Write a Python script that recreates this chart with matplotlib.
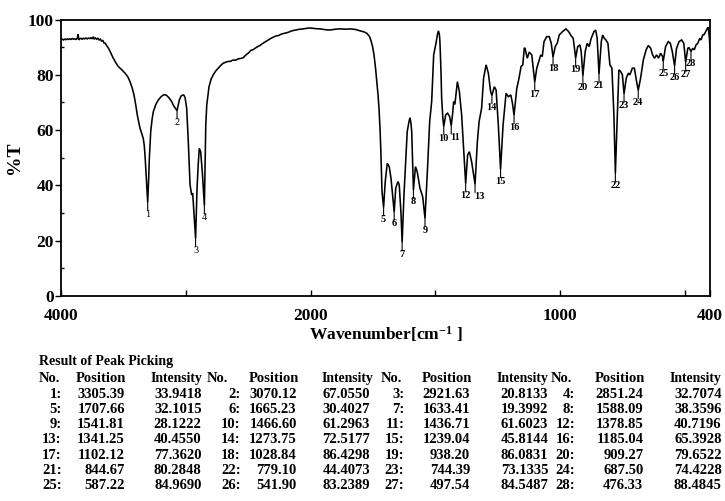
import numpy as np
import matplotlib
matplotlib.use("Agg")
import matplotlib.pyplot as plt
from matplotlib.ticker import FixedLocator, NullFormatter

plt.rcParams["font.family"] = ["Liberation Serif", "DejaVu Serif"]
plt.rcParams["font.weight"] = "bold"
plt.rcParams["mathtext.fontset"] = "custom"
plt.rcParams["mathtext.rm"] = "Liberation Serif:bold"
plt.rcParams["mathtext.bf"] = "Liberation Serif:bold"
plt.rcParams["mathtext.default"] = "rm"

# ---- picked peaks (No., position / cm-1, %T) ----
peak_no = list(range(1, 29))
peak_pos = [3305.39, 3070.12, 2921.63, 2851.24, 1707.66, 1665.23, 1633.41, 1588.09,
            1541.81, 1466.60, 1436.71, 1378.85, 1341.25, 1273.75, 1239.04, 1185.04,
            1102.12, 1028.84, 938.20, 909.27, 844.67, 779.10, 744.39, 687.50,
            587.22, 541.90, 497.54, 476.33]
peak_int = [33.9418, 67.0550, 20.8133, 32.7074, 32.1015, 30.4027, 19.3992, 38.3596,
            28.1222, 61.2963, 61.6023, 40.7196, 40.4550, 72.5177, 45.8144, 65.3928,
            77.3620, 86.4298, 86.0831, 79.6522, 80.2848, 44.4073, 73.1335, 74.4228,
            84.9690, 83.2389, 84.5487, 88.4845]

# ---- spectrum trace between the picked peaks (wavenumber / cm-1, %T) ----
trace_wn = [4000, 3990, 3980, 3970, 3960, 3950, 3940, 3930, 3920, 3910, 3900, 3890,
            3880, 3870, 3863, 3857, 3850, 3840, 3830, 3820, 3810, 3800, 3790, 3780,
            3770, 3760, 3750, 3741, 3735, 3725, 3715, 3705, 3695, 3685, 3675, 3665,
            3655, 3645, 3635, 3625, 3610, 3595, 3581, 3560, 3541, 3515, 3487, 3465,
            3447, 3430, 3415, 3400, 3389, 3377, 3367, 3352, 3341, 3333, 3327, 3318,
            3298, 3292, 3281, 3270, 3260, 3240, 3220, 3200, 3180, 3165, 3153, 3135,
            3113, 3095, 3062, 3052, 3038, 3025, 3015, 3006, 2993, 2980, 2966, 2953,
            2945, 2935, 2910, 2900, 2892, 2881, 2868, 2858, 2846, 2840, 2832, 2814,
            2797, 2780, 2760, 2740, 2720, 2700, 2665, 2640, 2625, 2600, 2579, 2560,
            2539, 2525, 2510, 2499, 2480, 2460, 2445, 2420, 2405, 2392, 2360, 2340,
            2325, 2300, 2280, 2258, 2230, 2200, 2178, 2150, 2120, 2098, 2060, 2018,
            2000, 1980, 1962, 1940, 1922, 1900, 1882, 1860, 1842, 1820, 1802, 1785,
            1775, 1765, 1759, 1752, 1746, 1740, 1735, 1730, 1726, 1722, 1719, 1714,
            1701, 1693, 1685, 1678, 1659, 1650, 1645, 1638, 1626, 1618, 1613, 1606,
            1602, 1598, 1595, 1580, 1573, 1562, 1551, 1532, 1523, 1515, 1507, 1499,
            1492, 1488, 1484, 1482, 1478, 1475, 1470, 1459, 1451, 1443, 1431, 1427,
            1422, 1412, 1404, 1395, 1387, 1371, 1364, 1355, 1332, 1325, 1315, 1307,
            1297, 1288, 1279, 1264, 1257, 1248, 1229, 1224, 1217, 1208, 1198, 1192,
            1174, 1165, 1157, 1150, 1144, 1141, 1132, 1124, 1114, 1108, 1094, 1086,
            1078, 1072, 1065, 1054, 1044, 1036, 1020, 1012, 1004, 991, 977, 966,
            957, 948, 930, 921, 916, 900, 892, 884, 876, 865, 858, 852,
            835.5, 830, 823.5, 817, 809, 801, 793, 785, 770, 765, 758, 751,
            735.5, 727, 721, 711, 703, 694, 678, 667, 656, 647, 637.5, 630,
            622, 614, 606, 598, 590, 578, 567, 559, 551, 534, 524, 513.5,
            505, 489, 484, 469, 463, 456, 449, 441, 436, 429, 423, 417.5,
            412, 407, 402, 400]
trace_t = [92.7, 92.9, 92.6, 92.9, 92.7, 93.0, 92.8, 93.0, 92.8, 93.1, 92.9, 93.0,
           92.8, 93.1, 94.6, 92.6, 93.0, 93.2, 92.9, 93.2, 93.0, 93.3, 93.0, 93.3,
           93.1, 93.4, 93.0, 93.8, 92.9, 93.3, 92.9, 93.2, 92.6, 92.9, 92.2, 92.4,
           91.5, 91.4, 90.6, 90.0, 88.8, 87.3, 86.0, 84.3, 83.0, 81.9, 80.6, 79.3,
           77.5, 75.3, 72.7, 68.8, 65.5, 62.8, 60.7, 58.5, 57.0, 54.5, 51.0, 44.0,
           42.0, 50.0, 59.5, 64.0, 66.7, 69.3, 70.9, 72.0, 72.7, 72.8, 72.5, 71.7,
           70.3, 68.6, 68.8, 70.9, 72.3, 72.7, 72.6, 71.8, 67.9, 55.8, 40.2, 36.5,
           37.2, 30.0, 39.0, 48.0, 53.4, 52.2, 45.0, 38.0, 47.4, 61.9, 69.1, 75.7,
           78.5, 80.0, 81.4, 82.4, 83.4, 84.2, 84.8, 84.9, 85.3, 85.3, 85.8, 85.9,
           86.2, 86.9, 87.5, 87.8, 88.8, 89.1, 89.6, 90.3, 90.6, 91.1, 92.0, 92.6,
           93.0, 93.6, 94.0, 94.2, 94.8, 95.1, 95.4, 95.9, 96.2, 96.4, 96.6, 96.9,
           96.9, 96.7, 96.6, 96.3, 96.2, 96.5, 96.6, 96.5, 96.6, 96.4, 95.9, 95.5,
           95.0, 94.0, 92.6, 90.3, 87.2, 82.5, 77.5, 72.8, 67.9, 60.5, 53.4, 37.7,
           41.4, 48.0, 46.8, 42.6, 39.0, 41.4, 40.2, 30.0, 36.5, 51.0, 59.5, 63.0,
           64.5, 62.5, 59.5, 46.8, 45.0, 39.0, 35.9, 45.5, 63.1, 70.3, 87.2, 90.8,
           94.5, 95.9, 94.5, 92.0, 82.0, 71.5, 64.0, 65.5, 66.1, 64.9, 66.0, 70.3,
           69.3, 77.5, 73.9, 65.5, 53.4, 51.0, 52.2, 48.6, 55.8, 63.1, 67.9, 78.8,
           83.6, 80.6, 74.0, 75.7, 74.5, 61.9, 61.9, 66.7, 73.3, 72.1, 72.7, 70.0,
           75.1, 78.8, 83.0, 83.6, 89.6, 89.6, 86.0, 88.2, 87.2, 82.4, 82.4, 84.8,
           87.2, 86.6, 92.0, 93.8, 93.8, 91.4, 90.2, 91.4, 94.4, 95.6, 96.6, 95.6,
           94.2, 93.2, 90.2, 90.8, 88.4, 88.4, 91.4, 90.2, 93.2, 95.6, 96.2, 93.2,
           92.0, 94.4, 93.2, 92.6, 91.4, 83.6, 82.4, 65.5, 68.0, 81.8, 81.2, 80.0,
           78.8, 80.6, 80.0, 82.4, 82.4, 77.5, 78.8, 85.4, 89.0, 90.6, 89.6, 87.2,
           86.0, 87.2, 86.0, 87.8, 86.6, 90.2, 92.0, 91.4, 88.4, 89.6, 92.0, 92.6,
           91.4, 89.6, 89.8, 89.6, 89.0, 90.8, 91.4, 93.2, 92.6, 94.4, 94.6, 95.6,
           96.6, 97.2, 93.0, 89.5]

# Tick values of the wavenumber axis
x_major = [4000, 2000, 1000, 400]
x_minor = [3000, 1500, 500]
y_major = [0, 20, 40, 60, 80, 100]
y_minor = [10, 30, 50, 70, 90]

# merge the trace with the peak minima
wn = np.array(trace_wn + peak_pos, dtype=float)
tr = np.array(trace_t + peak_int, dtype=float)
order = np.argsort(-wn)
wn, tr = wn[order], tr[order]


def fwd(x):
    x = np.asarray(x, dtype=float)
    return np.where(x > 2000, 2000 + (x - 2000) * 0.5, x)


def inv(u):
    u = np.asarray(u, dtype=float)
    return np.where(u > 2000, 2000 + (u - 2000) * 2.0, u)


W, H = 725, 501
fig = plt.figure(figsize=(W / 100, H / 100), dpi=100)
ax = fig.add_axes([61 / W, 1 - 296 / H, (710 - 61) / W, (296 - 19.5) / H])

ax.set_xscale("function", functions=(fwd, inv))
ax.plot(wn, tr, color="black", lw=1.15, solid_joinstyle="miter")
ax.set_xlim(4000, 400)
ax.set_ylim(0, 100)

ax.xaxis.set_major_locator(FixedLocator(x_major))
ax.xaxis.set_minor_locator(FixedLocator(x_minor))
ax.xaxis.set_minor_formatter(NullFormatter())
ax.set_xticklabels([str(v) for v in x_major])
ax.yaxis.set_major_locator(FixedLocator(y_major))
ax.yaxis.set_minor_locator(FixedLocator(y_minor))
ax.set_yticklabels([str(v) for v in y_major])

ax.tick_params(axis="x", which="both", direction="in", length=4, width=1.0,
               pad=8.5, labelsize=12.5, top=False)
ax.tick_params(axis="y", which="major", direction="out", length=4, width=1.0,
               pad=1, labelsize=12.5)
ax.tick_params(axis="y", which="minor", direction="in", length=2.5, width=1.0)
for lab in ax.get_xticklabels() + ax.get_yticklabels():
    lab.set_fontweight("bold")
for sp in ax.spines.values():
    sp.set_linewidth(1.3)

ax.set_ylabel("%T", fontsize=14, fontweight="bold")
ax.yaxis.set_label_coords(-0.058, 0.5)
ax.set_xlabel(r"Wavenumber[cm$^{-1}$ ]", fontsize=12.5, fontweight="bold")
ax.xaxis.set_label_coords(0.5, -0.1)

# peak markers: short drop line and number beneath each minimum
nudge = {11: 4, 13: 4}
for n, p, t in zip(peak_no, peak_pos, peak_int):
    ax.annotate("", xy=(p, t), xytext=(0, -6), textcoords="offset points",
                arrowprops=dict(arrowstyle="-", lw=0.8, color="black",
                                shrinkA=0, shrinkB=0))
    ax.annotate(str(n), xy=(p, t), xytext=(nudge.get(n, 0) * 0.72, -8.6),
                textcoords="offset points", ha="center", va="center",
                fontsize=7.5, fontweight="normal" if n <= 4 else "bold")


# ---- peak table ----
def fx(px):
    return px / W


def fy(py):
    return 1 - py / H


fig.text(fx(39), fy(365), "Result of Peak Picking", fontsize=10, fontweight="bold",
         va="baseline", ha="left")

no_hdr_x = [39, 206.7, 380.7, 550.7]
pos_hdr_x = [76, 248.3, 421.7, 595]
int_hdr_x = [150.7, 321.7, 496.7, 670]
no_val_x = [61.7, 240.7, 404.3, 575]
pos_val_x = [125, 296.7, 470, 643.3]
int_val_x = [201.7, 370, 548.3, 721.7]

base0 = 382.3
step = 15.29
fs = 10.5
for g in range(4):
    fig.text(fx(no_hdr_x[g]), fy(base0), "No.", fontsize=fs, va="baseline", ha="left")
    fig.text(fx(pos_hdr_x[g]), fy(base0), "Position", fontsize=fs, va="baseline", ha="left")
    fig.text(fx(int_hdr_x[g]), fy(base0), "Intensity", fontsize=9.9, va="baseline", ha="left")

for i, (n, p, t) in enumerate(zip(peak_no, peak_pos, peak_int)):
    r, g = divmod(i, 4)
    yb = fy(base0 + step * (r + 1))
    fig.text(fx(no_val_x[g]), yb, f"{n}:", fontsize=fs, va="baseline", ha="right")
    fig.text(fx(pos_val_x[g]), yb, f"{p:.2f}", fontsize=fs, va="baseline", ha="right")
    fig.text(fx(int_val_x[g]), yb, f"{t:.4f}", fontsize=fs, va="baseline", ha="right")

fig.savefig("out.png", dpi=100)
